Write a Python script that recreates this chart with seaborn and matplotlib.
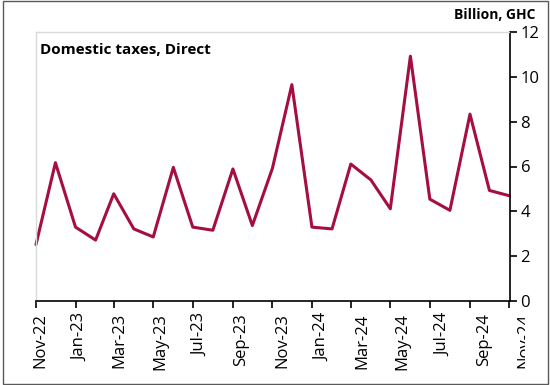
import matplotlib
matplotlib.use("Agg")
import matplotlib.pyplot as plt
import matplotlib.dates as mdates
import matplotlib.transforms as mtransforms
from matplotlib.patches import Rectangle
import pandas as pd
import seaborn as sns

# Monthly direct domestic tax receipts, billion GHC
months = ["Nov-22", "Dec-22", "Jan-23", "Feb-23", "Mar-23", "Apr-23", "May-23",
          "Jun-23", "Jul-23", "Aug-23", "Sep-23", "Oct-23", "Nov-23", "Dec-23",
          "Jan-24", "Feb-24", "Mar-24", "Apr-24", "May-24", "Jun-24", "Jul-24",
          "Aug-24", "Sep-24", "Oct-24", "Nov-24"]
direct_taxes = [2.51, 6.17, 3.29, 2.71, 4.78, 3.21, 2.85, 5.96, 3.29, 3.15,
                5.89, 3.36, 5.92, 9.66, 3.29, 3.21, 6.11, 5.40, 4.11, 10.93,
                4.54, 4.04, 8.34, 4.93, 4.69]
y_ticks = [0, 2, 4, 6, 8, 10, 12]

series_title = "Domestic taxes, Direct"
unit_label = "Billion, GHC"
line_color = "#A50E41"

df = pd.DataFrame({"month": pd.to_datetime(months, format="%b-%y"),
                   "value": direct_taxes})

sns.set_theme(style="white")
plt.rcParams["font.family"] = ["Open Sans", "DejaVu Sans"]

fig = plt.figure(figsize=(5.5, 3.85), dpi=100)
ax = fig.add_axes([36 / 550, 1 - 300.7 / 385, (509.5 - 36) / 550, (300.7 - 32.3) / 385])

sns.lineplot(data=df, x="month", y="value", ax=ax, color=line_color,
             linewidth=2.2, legend=False, clip_on=False)

ax.set_xlim(df["month"].iloc[0], df["month"].iloc[-1])
ax.set_ylim(0, 12)
ax.set_yticks(y_ticks)
ax.set_xlabel("")
ax.set_ylabel("")

# y axis on the right
ax.yaxis.tick_right()
ax.tick_params(axis="y", which="major", direction="out", length=5, width=1.2,
               color="black", labelsize=12, pad=3, right=True, left=False,
               labelcolor="black")

# x axis every second month; rotated labels drift slightly right across the axis
ax.set_xticks(df["month"].iloc[::2])
ax.xaxis.set_major_formatter(mdates.DateFormatter("%b-%y"))
ax.tick_params(axis="x", which="major", direction="out", length=5, width=1.2,
               color="black", labelsize=12, pad=4, bottom=True,
               labelcolor="black")
labels = ax.get_xticklabels()
n_lab = len(labels)
for i, lab in enumerate(labels):
    dx = (-4 + 11 * i / (n_lab - 1)) / 100
    lab.set_rotation(90)
    lab.set_ha("left")
    lab.set_va("top")
    lab.set_transform(lab.get_transform()
                      + mtransforms.ScaledTranslation(dx, 0, fig.dpi_scale_trans))

for side in ["top", "left"]:
    ax.spines[side].set_color("#D9D9D9")
    ax.spines[side].set_linewidth(1.0)
for side in ["bottom", "right"]:
    ax.spines[side].set_color("black")
    ax.spines[side].set_linewidth(1.2)
    ax.spines[side].set_visible(True)

ax.text(0.008, 0.935, series_title, transform=ax.transAxes, fontsize=11,
        fontweight="bold", ha="left", va="center", color="black")
fig.text(535 / 550, 1 - 15 / 385, unit_label, fontsize=10, fontweight="bold",
         ha="right", va="center", color="black")

# the chart area ends just past the right axis, cutting the last month label
fig.patches.append(Rectangle((525 / 550, 3 / 385), 21 / 550, (385 - 310 - 3) / 385,
                             transform=fig.transFigure, facecolor="white",
                             edgecolor="none", zorder=10))

# outer frame around the whole chart
fig.patches.append(Rectangle((3 / 550, 1 / 385), 545 / 550, 383 / 385,
                             transform=fig.transFigure, fill=False,
                             edgecolor="#595959", linewidth=1.0, zorder=11))

fig.savefig("out.png", dpi=100)
